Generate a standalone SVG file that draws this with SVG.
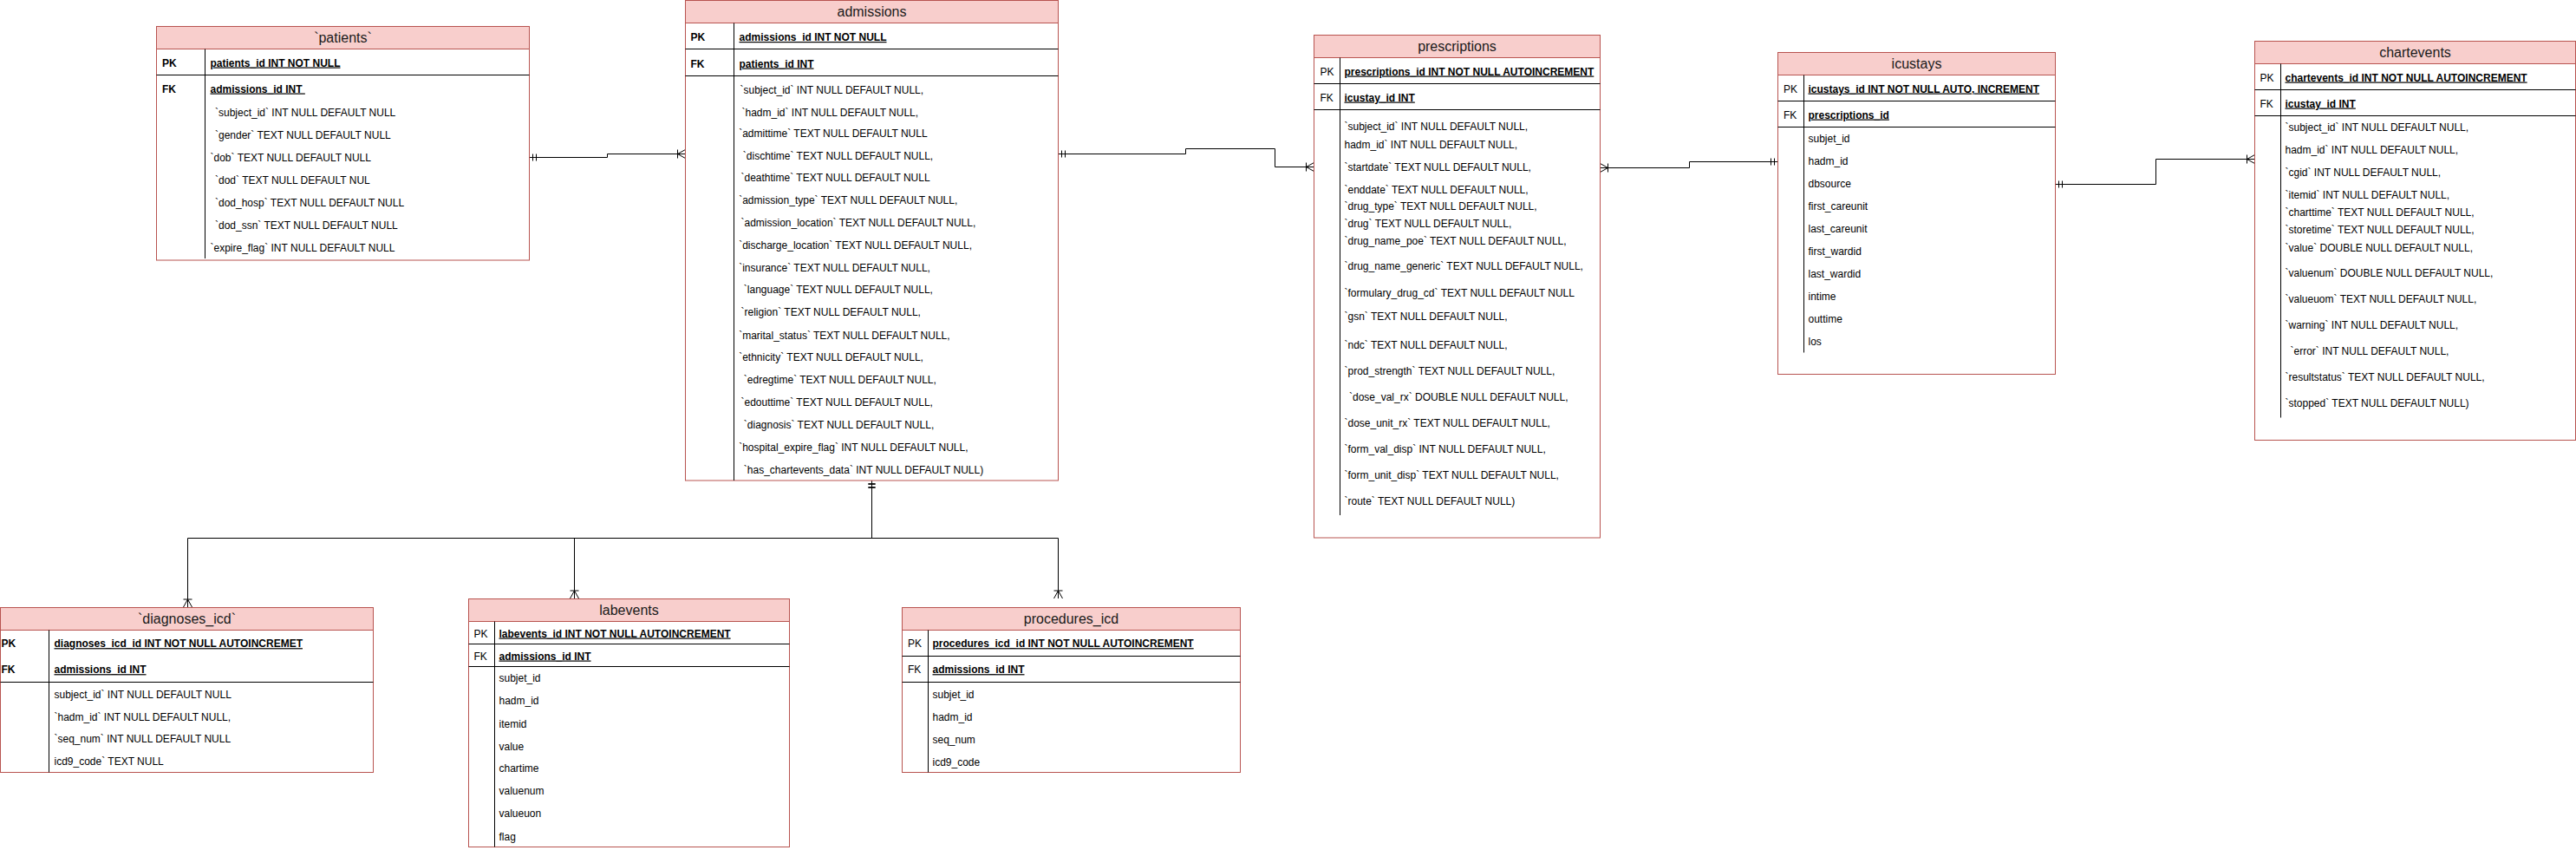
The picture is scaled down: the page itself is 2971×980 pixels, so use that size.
<svg xmlns="http://www.w3.org/2000/svg" width="2971" height="980" viewBox="0 0 2971 980">
<style>
.box{fill:#ffffff;stroke:#b85450;stroke-width:1}
.hdr{fill:#f8cecc;stroke:#b85450;stroke-width:1}
.ln{stroke:#000000;stroke-width:1;fill:none}
text{font-family:"Liberation Sans",Arial,sans-serif;font-size:12px;fill:#000000}
.b{font-weight:bold}
.u{text-decoration:underline}
.ttl{font-size:16px;text-anchor:middle;fill:#1a1a1a}
.conn{fill:none;stroke:#000000;stroke-width:1}
</style>
<defs>
<marker id="many" markerUnits="userSpaceOnUse" markerWidth="14" markerHeight="14" viewBox="0 0 14 14" refX="14" refY="7" orient="auto-start-reverse">
<path d="M5,7 L14,2 M5,7 L14,12 M5,7 L14,7 M5,2 L5,12" fill="none" stroke="#000" stroke-width="1"/>
</marker>
<marker id="one" markerUnits="userSpaceOnUse" markerWidth="14" markerHeight="14" viewBox="0 0 14 14" refX="14" refY="7" orient="auto-start-reverse">
<path d="M6,3 L6,11 M10,3 L10,11" fill="none" stroke="#000" stroke-width="1"/>
</marker>
</defs>
<rect x="0" y="0" width="2971" height="980" fill="#ffffff"/>

<g id="connectors">
<path class="conn" d="M610.5,181.5 H700.5 V177.5 H790.5" marker-start="url(#one)" marker-end="url(#many)"/>
<path class="conn" d="M1220.5,177.5 H1367.5 V171.5 H1470.5 V192.5 H1515.5" marker-start="url(#one)" marker-end="url(#many)"/>
<path class="conn" d="M1845.5,193.5 H1948.5 V186.5 H2050.5" marker-start="url(#many)" marker-end="url(#one)"/>
<path class="conn" d="M2370.5,212.5 H2486.5 V183.5 H2600.5" marker-start="url(#one)" marker-end="url(#many)"/>
<path class="conn" d="M1005.5,554 V620.5 H216.5 V700" marker-start="url(#one)" marker-end="url(#many)"/>
<path class="conn" d="M1005.5,554 V620.5 H662.5 V690" marker-start="url(#one)" marker-end="url(#many)"/>
<path class="conn" d="M1005.5,554 V620.5 H1220.5 V690" marker-start="url(#one)" marker-end="url(#many)"/>
</g>

<g id="patients">
<rect class="box" x="180.5" y="30.5" width="430" height="269.5"/>
<rect class="hdr" x="180.5" y="30.5" width="430" height="26"/>
<text class="ttl" x="395.5" y="49">`patients`</text>
<line class="ln" x1="180.5" y1="86.5" x2="610.5" y2="86.5"/>
<line class="ln" x1="236.5" y1="56.5" x2="236.5" y2="298"/>
<text class="b" x="187" y="76.5">PK</text>
<text class="b u" x="242.5" y="76.5">patients_id INT NOT NULL</text>
<text class="b" x="187" y="106.5">FK</text>
<text class="b u" x="242.5" y="106.5" xml:space="preserve">admissions_id INT </text>
<text x="248" y="134">`subject_id` INT NULL DEFAULT NULL</text>
<text x="248" y="160">`gender` TEXT NULL DEFAULT NULL</text>
<text x="242.5" y="186">`dob` TEXT NULL DEFAULT NULL</text>
<text x="248" y="212">`dod` TEXT NULL DEFAULT NUL</text>
<text x="248" y="238">`dod_hosp` TEXT NULL DEFAULT NULL</text>
<text x="248" y="264">`dod_ssn` TEXT NULL DEFAULT NULL</text>
<text x="242.5" y="290">`expire_flag` INT NULL DEFAULT NULL</text>
</g>

<g id="admissions">
<rect class="box" x="790.5" y="0.5" width="430" height="553.5"/>
<rect class="hdr" x="790.5" y="0.5" width="430" height="26"/>
<text class="ttl" x="1005.5" y="19">admissions</text>
<line class="ln" x1="790.5" y1="56.5" x2="1220.5" y2="56.5"/>
<line class="ln" x1="790.5" y1="87.5" x2="1220.5" y2="87.5"/>
<line class="ln" x1="846.5" y1="26.5" x2="846.5" y2="554"/>
<text class="b" x="796.5" y="47">PK</text>
<text class="b u" x="852.5" y="47">admissions_id INT NOT NULL</text>
<text class="b" x="796.5" y="77.5">FK</text>
<text class="b u" x="852.5" y="77.5">patients_id INT</text>
<text x="853.5" y="108">`subject_id` INT NULL DEFAULT NULL,</text>
<text x="855.5" y="134">`hadm_id` INT NULL DEFAULT NULL,</text>
<text x="852.2" y="158">`admittime` TEXT NULL DEFAULT NULL</text>
<text x="856.8" y="184">`dischtime` TEXT NULL DEFAULT NULL,</text>
<text x="854.5" y="209">`deathtime` TEXT NULL DEFAULT NULL</text>
<text x="852.2" y="235">`admission_type` TEXT NULL DEFAULT NULL,</text>
<text x="854.5" y="260.5">`admission_location` TEXT NULL DEFAULT NULL,</text>
<text x="852.2" y="286.5">`discharge_location` TEXT NULL DEFAULT NULL,</text>
<text x="852.2" y="312.8">`insurance` TEXT NULL DEFAULT NULL,</text>
<text x="857.8" y="337.8">`language` TEXT NULL DEFAULT NULL,</text>
<text x="854.5" y="363.8">`religion` TEXT NULL DEFAULT NULL,</text>
<text x="852.2" y="390.5">`marital_status` TEXT NULL DEFAULT NULL,</text>
<text x="852.2" y="416.2">`ethnicity` TEXT NULL DEFAULT NULL,</text>
<text x="857.8" y="441.8">`edregtime` TEXT NULL DEFAULT NULL,</text>
<text x="854.5" y="467.8">`edouttime` TEXT NULL DEFAULT NULL,</text>
<text x="857.8" y="493.8">`diagnosis` TEXT NULL DEFAULT NULL,</text>
<text x="852.2" y="519.8">`hospital_expire_flag` INT NULL DEFAULT NULL,</text>
<text x="857.8" y="546.2">`has_chartevents_data` INT NULL DEFAULT NULL)</text>
</g>

<g id="prescriptions">
<rect class="box" x="1515.5" y="40.5" width="330" height="579.5"/>
<rect class="hdr" x="1515.5" y="40.5" width="330" height="26"/>
<text class="ttl" x="1680.5" y="59">prescriptions</text>
<line class="ln" x1="1515.5" y1="96.5" x2="1845.5" y2="96.5"/>
<line class="ln" x1="1515.5" y1="126.5" x2="1845.5" y2="126.5"/>
<line class="ln" x1="1545.5" y1="66.5" x2="1545.5" y2="594"/>
<text x="1522.5" y="86.5">PK</text>
<text class="b u" x="1550.5" y="86.5">prescriptions_id INT NOT NULL AUTOINCREMENT</text>
<text x="1522.5" y="116.5">FK</text>
<text class="b u" x="1550.5" y="116.5">icustay_id  INT</text>
<text x="1550.5" y="149.5">`subject_id` INT NULL DEFAULT NULL,</text>
<text x="1550.5" y="170.5">hadm_id` INT NULL DEFAULT NULL,</text>
<text x="1550.5" y="196.8">`startdate` TEXT NULL DEFAULT NULL,</text>
<text x="1550.5" y="222.8">`enddate` TEXT NULL DEFAULT NULL,</text>
<text x="1550.5" y="242.2">`drug_type` TEXT NULL DEFAULT NULL,</text>
<text x="1550.5" y="262.2">`drug` TEXT NULL DEFAULT NULL,</text>
<text x="1550.5" y="281.8">`drug_name_poe` TEXT NULL DEFAULT NULL,</text>
<text x="1550.5" y="310.5">`drug_name_generic` TEXT NULL DEFAULT NULL,</text>
<text x="1550.5" y="341.8">`formulary_drug_cd` TEXT NULL DEFAULT NULL</text>
<text x="1550.5" y="368.8">`gsn` TEXT NULL DEFAULT NULL,</text>
<text x="1550.5" y="401.8">`ndc` TEXT NULL DEFAULT NULL,</text>
<text x="1550.5" y="431.8">`prod_strength` TEXT NULL DEFAULT NULL,</text>
<text x="1556" y="461.8">`dose_val_rx` DOUBLE NULL DEFAULT NULL,</text>
<text x="1550.5" y="492.2">`dose_unit_rx` TEXT NULL DEFAULT NULL,</text>
<text x="1550.5" y="522.2">`form_val_disp` INT NULL DEFAULT NULL,</text>
<text x="1550.5" y="552.2">`form_unit_disp` TEXT NULL DEFAULT NULL,</text>
<text x="1550.5" y="582.2">`route` TEXT NULL DEFAULT NULL)</text>
</g>

<g id="icustays">
<rect class="box" x="2050.5" y="60.5" width="320" height="371"/>
<rect class="hdr" x="2050.5" y="60.5" width="320" height="26"/>
<text class="ttl" x="2210.5" y="79">icustays</text>
<line class="ln" x1="2050.5" y1="116.5" x2="2370.5" y2="116.5"/>
<line class="ln" x1="2050.5" y1="146.5" x2="2370.5" y2="146.5"/>
<line class="ln" x1="2080.5" y1="86.5" x2="2080.5" y2="406.5"/>
<text x="2057" y="106.5">PK</text>
<text class="b u" x="2085.5" y="106.5">icustays_id INT NOT NULL AUTO, INCREMENT</text>
<text x="2057" y="136.5">FK</text>
<text class="b u" x="2085.5" y="136.5">prescriptions_id</text>
<text x="2085.5" y="163.8">subjet_id</text>
<text x="2085.5" y="190.2">hadm_id</text>
<text x="2085.5" y="216.2">dbsource</text>
<text x="2085.5" y="241.8">first_careunit</text>
<text x="2085.5" y="267.8">last_careunit</text>
<text x="2085.5" y="293.8">first_wardid</text>
<text x="2085.5" y="319.8">last_wardid</text>
<text x="2085.5" y="346.2">intime</text>
<text x="2085.5" y="371.8">outtime</text>
<text x="2085.5" y="397.8">los</text>
</g>

<g id="chartevents">
<rect class="box" x="2600.5" y="47.5" width="370" height="460"/>
<rect class="hdr" x="2600.5" y="47.5" width="370" height="26"/>
<text class="ttl" x="2785.5" y="66.3">chartevents</text>
<line class="ln" x1="2600.5" y1="103.5" x2="2970.5" y2="103.5"/>
<line class="ln" x1="2600.5" y1="133.5" x2="2970.5" y2="133.5"/>
<line class="ln" x1="2630.5" y1="73.5" x2="2630.5" y2="481.5"/>
<text x="2606.5" y="93.5">PK</text>
<text class="b u" x="2635.5" y="93.5">chartevents_id INT NOT NULL AUTOINCREMENT</text>
<text x="2606.5" y="123.5">FK</text>
<text class="b u" x="2635.5" y="123.5">icustay_id INT</text>
<text x="2635.5" y="151.2">`subject_id` INT NULL DEFAULT NULL,</text>
<text x="2635.5" y="177.2">hadm_id` INT NULL DEFAULT NULL,</text>
<text x="2635.5" y="203.2">`cgid` INT NULL DEFAULT NULL,</text>
<text x="2635.5" y="228.8">`itemid` INT NULL DEFAULT NULL,</text>
<text x="2635.5" y="248.8">`charttime` TEXT NULL DEFAULT NULL,</text>
<text x="2635.5" y="268.8">`storetime` TEXT NULL DEFAULT NULL,</text>
<text x="2635.5" y="289.5">`value` DOUBLE NULL DEFAULT NULL,</text>
<text x="2635.5" y="318.8">`valuenum` DOUBLE NULL DEFAULT NULL,</text>
<text x="2635.5" y="348.8">`valueuom` TEXT NULL DEFAULT NULL,</text>
<text x="2635.5" y="378.8">`warning` INT NULL DEFAULT NULL,</text>
<text x="2641.5" y="408.8">`error` INT NULL DEFAULT NULL,</text>
<text x="2635.5" y="438.8">`resultstatus` TEXT NULL DEFAULT NULL,</text>
<text x="2635.5" y="468.8">`stopped` TEXT NULL DEFAULT NULL)</text>
</g>

<g id="diagnoses_icd">
<rect class="box" x="0.5" y="700.5" width="430" height="190"/>
<rect class="hdr" x="0.5" y="700.5" width="430" height="26"/>
<text class="ttl" x="215.5" y="719">`diagnoses_icd`</text>
<line class="ln" x1="0.5" y1="786.5" x2="430.5" y2="786.5"/>
<line class="ln" x1="56.5" y1="726.5" x2="56.5" y2="890.5"/>
<text class="b" x="1.5" y="746.2">PK</text>
<text class="b u" x="62.5" y="746.2">diagnoses_icd_id INT NOT NULL AUTOINCREMET</text>
<text class="b" x="1.5" y="776.2">FK</text>
<text class="b u" x="62.5" y="776.2">admissions_id INT</text>
<text x="62.5" y="804.5">subject_id` INT NULL DEFAULT NULL</text>
<text x="62.5" y="830.5">`hadm_id` INT NULL DEFAULT NULL,</text>
<text x="62.5" y="856.2">`seq_num` INT NULL DEFAULT NULL</text>
<text x="62.5" y="882.2">icd9_code` TEXT NULL</text>
</g>

<g id="labevents">
<rect class="box" x="540.5" y="690.5" width="370" height="286"/>
<rect class="hdr" x="540.5" y="690.5" width="370" height="26"/>
<text class="ttl" x="725.5" y="709">labevents</text>
<line class="ln" x1="540.5" y1="742.5" x2="910.5" y2="742.5"/>
<line class="ln" x1="540.5" y1="768.5" x2="910.5" y2="768.5"/>
<line class="ln" x1="570.5" y1="716.5" x2="570.5" y2="976.5"/>
<text x="546.5" y="734.5">PK</text>
<text class="b u" x="575.5" y="734.5">labevents_id INT NOT NULL AUTOINCREMENT</text>
<text x="546.5" y="760.5">FK</text>
<text class="b u" x="575.5" y="760.5">admissions_id INT</text>
<text x="575.5" y="786.2">subjet_id</text>
<text x="575.5" y="812.2">hadm_id</text>
<text x="575.5" y="838.5">itemid</text>
<text x="575.5" y="864.5">value</text>
<text x="575.5" y="890.2">chartime</text>
<text x="575.5" y="916.2">valuenum</text>
<text x="575.5" y="942.2">valueuon</text>
<text x="575.5" y="968.5">flag</text>
</g>

<g id="procedures_icd">
<rect class="box" x="1040.5" y="700.5" width="390" height="190"/>
<rect class="hdr" x="1040.5" y="700.5" width="390" height="26"/>
<text class="ttl" x="1235.5" y="719">procedures_icd</text>
<line class="ln" x1="1040.5" y1="756.5" x2="1430.5" y2="756.5"/>
<line class="ln" x1="1040.5" y1="786.5" x2="1430.5" y2="786.5"/>
<line class="ln" x1="1070.5" y1="726.5" x2="1070.5" y2="890.5"/>
<text x="1047" y="746.2">PK</text>
<text class="b u" x="1075.5" y="746.2">procedures_icd_id INT NOT NULL AUTOINCREMENT</text>
<text x="1047" y="776.2">FK</text>
<text class="b u" x="1075.5" y="776.2">admissions_id INT</text>
<text x="1075.5" y="804.5">subjet_id</text>
<text x="1075.5" y="830.5">hadm_id</text>
<text x="1075.5" y="856.8">seq_num</text>
<text x="1075.5" y="882.8">icd9_code</text>
</g>
</svg>
